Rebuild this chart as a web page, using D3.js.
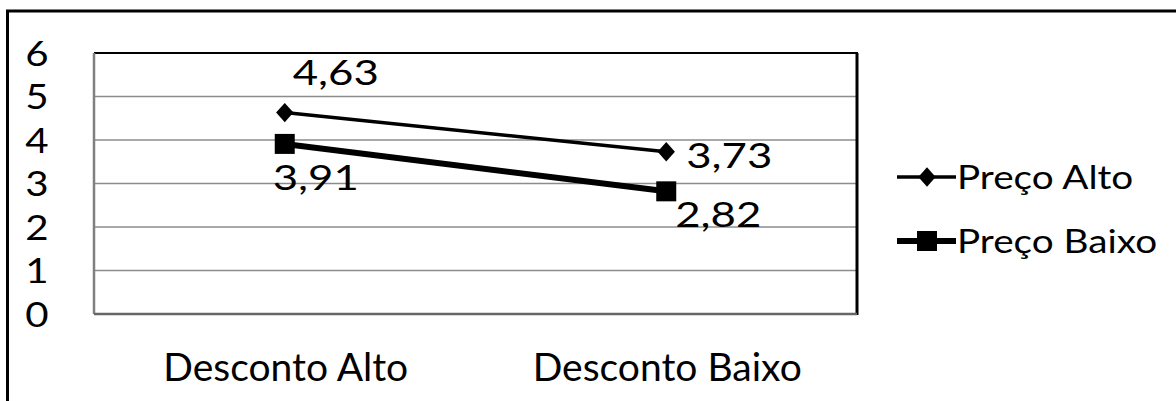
<!DOCTYPE html>
<html>
<head>
<meta charset="utf-8">
<script src="https://cdn.jsdelivr.net/npm/d3@7"></script>
<style>
  html, body { margin: 0; padding: 0; background: #fff; }
  svg { display: block; }
  text { font-family: Lato, "Open Sans", sans-serif; fill: #000; }
</style>
</head>
<body>
<svg id="chart" width="1176" height="401"></svg>
<script>
// Categories, series and axis ticks
const categories = ["Desconto Alto", "Desconto Baixo"];
const seriesNames = ["Preço Alto", "Preço Baixo"];
const precoAlto = [4.63, 3.73];
const precoBaixo = [3.91, 2.82];
const yTicks = [0, 1, 2, 3, 4, 5, 6];

const svg = d3.select("#chart");
const W = 1176, H = 401;

// Text helper: baseline placement with a horizontal stretch
function label(parent, x, baseline, str, size, sx, anchor) {
  return parent.append("text")
    .attr("transform", `translate(${x},${baseline}) scale(${sx},1)`)
    .attr("text-anchor", anchor || "middle")
    .style("font-size", size + "px")
    .text(str);
}

// Marker shapes
const diamondPath = d3.symbol().type(d3.symbolSquare).size(150)();
const squarePath = d3.symbol().type(d3.symbolSquare).size(400)();

const series = [
  { name: seriesNames[0], values: precoAlto, width: 3.5, path: diamondPath, rot: 45, sy: 1.12,
    labelDx: [51, 63], labelDy: [-27.5, 16.5] },
  { name: seriesNames[1], values: precoBaixo, width: 6, path: squarePath, rot: 0, sy: 1,
    labelDx: [31, 52], labelDy: [46, 35.5] }
];

// Outer chart frame (runs past the right and bottom edges)
svg.append("rect")
  .attr("x", 7.5).attr("y", 11)
  .attr("width", W + 20).attr("height", H + 20)
  .attr("fill", "none").attr("stroke", "#000").attr("stroke-width", 3);

const plot = { left: 94, right: 857, top: 53, bottom: 314 };

const x = d3.scalePoint().domain(categories).range([plot.left, plot.right]).padding(0.5);
const y = d3.scaleLinear().domain([0, 6]).range([plot.bottom, plot.top]);

// Horizontal gridlines
svg.append("g")
  .selectAll("line")
  .data(yTicks.filter(t => t > 0 && t < 6))
  .join("line")
  .attr("x1", plot.left).attr("x2", plot.right)
  .attr("y1", d => y(d)).attr("y2", d => y(d))
  .attr("stroke", "#8c8c8c").attr("stroke-width", 1.5);

// Plot-area border: dark top/right, grey left/bottom
svg.append("line").attr("x1", plot.left).attr("x2", plot.right + 1).attr("y1", plot.top).attr("y2", plot.top)
  .attr("stroke", "#000").attr("stroke-width", 2);
svg.append("line").attr("x1", plot.right).attr("x2", plot.right).attr("y1", plot.top).attr("y2", plot.bottom + 1)
  .attr("stroke", "#000").attr("stroke-width", 3);
svg.append("line").attr("x1", plot.left).attr("x2", plot.left).attr("y1", plot.top).attr("y2", plot.bottom)
  .attr("stroke", "#808080").attr("stroke-width", 2.5);
svg.append("line").attr("x1", plot.left).attr("x2", plot.right).attr("y1", plot.bottom).attr("y2", plot.bottom)
  .attr("stroke", "#666").attr("stroke-width", 2.5);

// Y axis labels
const gy = svg.append("g");
yTicks.forEach(t => label(gy, 37, y(t) + 12.5, d3.format("d")(t), 35, 1.15));

// X axis labels
const gx = svg.append("g");
categories.forEach(c => label(gx, x(c) + 1, 381, c, 39, 1.0));

// Series lines, markers and value labels
const line = d3.line().x((d, i) => x(categories[i])).y(d => y(d));
const fmt = v => d3.format(".2f")(v).replace(".", ",");

series.forEach(s => {
  svg.append("path").datum(s.values)
    .attr("d", line).attr("fill", "none")
    .attr("stroke", "#000").attr("stroke-width", s.width);
  svg.append("g").selectAll("path")
    .data(s.values).join("path")
    .attr("d", s.path)
    .attr("transform", (d, i) => `translate(${x(categories[i])},${y(d)}) scale(1,${s.sy}) rotate(${s.rot})`)
    .attr("fill", "#000");
  const gl = svg.append("g");
  s.values.forEach((v, i) => {
    label(gl, x(categories[i]) + s.labelDx[i], y(v) + s.labelDy[i], fmt(v), 35, 1.25);
  });
});

// Legend
const legend = svg.append("g");
series.forEach((s, i) => {
  const ly = 177 + i * 64;
  legend.append("line").attr("x1", 897).attr("x2", 956).attr("y1", ly).attr("y2", ly)
    .attr("stroke", "#000").attr("stroke-width", s.width);
  legend.append("path").attr("d", s.path)
    .attr("transform", `translate(927,${ly}) scale(1,${s.sy}) rotate(${s.rot})`).attr("fill", "#000");
  label(legend, 957, ly + 11.5, s.name, 32, 1.21, "start");
});
</script>
</body>
</html>
